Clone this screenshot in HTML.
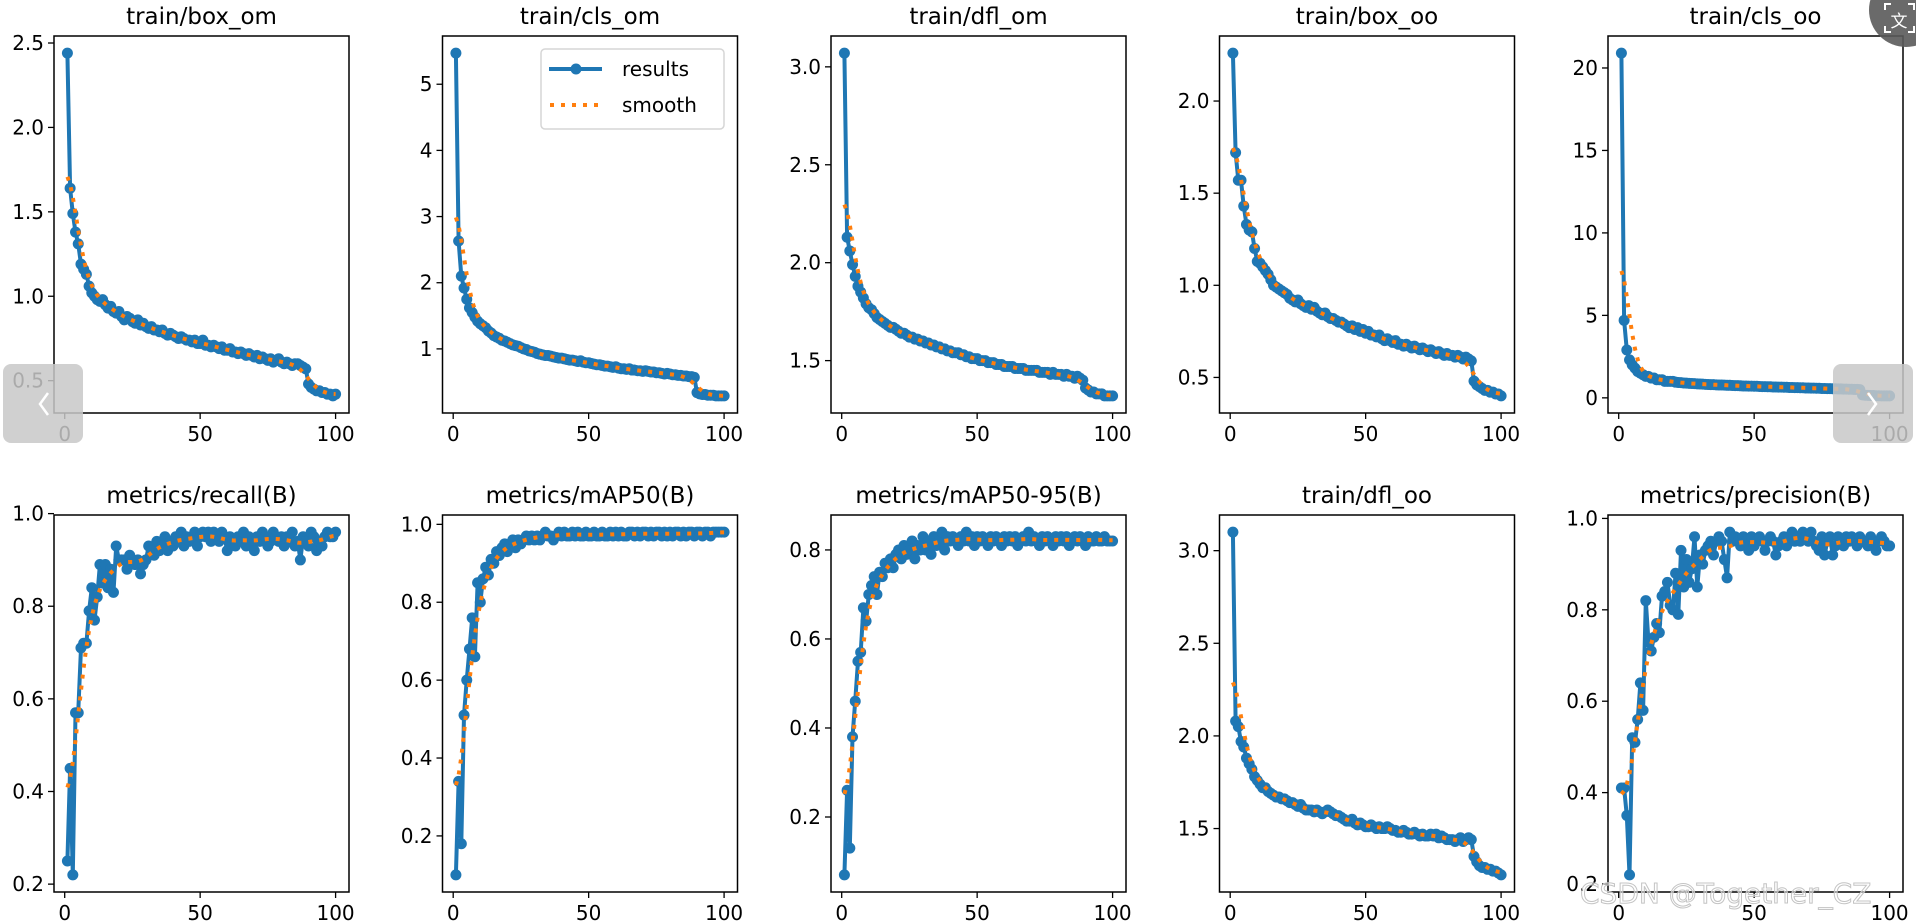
<!DOCTYPE html>
<html><head><meta charset="utf-8">
<style>
html,body{margin:0;padding:0;background:#fff;}
body{width:1916px;height:922px;overflow:hidden;position:relative;font-family:"DejaVu Sans","Liberation Sans",sans-serif;}
svg{position:absolute;left:0;top:0;}
</style></head>
<body>
<svg id="chart" width="1916" height="922" viewBox="0 0 1916 922" xmlns="http://www.w3.org/2000/svg"></svg>
<script>
const titles = ["train/box_om","train/cls_om","train/dfl_om","train/box_oo","train/cls_oo",
"metrics/recall(B)","metrics/mAP50(B)","metrics/mAP50-95(B)","train/dfl_oo","metrics/precision(B)"];
const xTicks = [0,50,100];
const yTicks0 = [0.5,1.0,1.5,2.0,2.5];
const yTicks1 = [1,2,3,4,5];
const yTicks2 = [1.5,2.0,2.5,3.0];
const yTicks3 = [0.5,1.0,1.5,2.0];
const yTicks4 = [0,5,10,15,20];
const yTicks5 = [0.2,0.4,0.6,0.8,1.0];
const yTicks6 = [0.2,0.4,0.6,0.8,1.0];
const yTicks7 = [0.2,0.4,0.6,0.8];
const yTicks8 = [1.5,2.0,2.5,3.0];
const yTicks9 = [0.2,0.4,0.6,0.8,1.0];
const yDecimals = [1,0,1,1,0,1,1,1,1,1];

const boxOm = [2.44,1.64,1.49,1.38,1.31,1.19,1.16,1.13,1.06,1.02,
1.00,0.98,0.97,0.98,0.95,0.93,0.94,0.91,0.90,0.91,
0.88,0.86,0.88,0.87,0.85,0.84,0.86,0.83,0.84,0.82,
0.81,0.82,0.80,0.80,0.79,0.80,0.78,0.77,0.78,0.77,
0.76,0.75,0.76,0.75,0.74,0.74,0.73,0.74,0.72,0.72,
0.74,0.71,0.71,0.70,0.71,0.70,0.69,0.70,0.68,0.68,
0.69,0.67,0.67,0.66,0.67,0.66,0.65,0.66,0.65,0.64,
0.65,0.63,0.64,0.63,0.62,0.63,0.61,0.62,0.63,0.61,
0.60,0.61,0.60,0.59,0.60,0.60,0.59,0.58,0.57,0.48,
0.46,0.45,0.44,0.44,0.43,0.43,0.42,0.42,0.41,0.42];
const clsOm = [5.47,2.63,2.10,1.92,1.75,1.62,1.55,1.48,1.42,1.38,
1.35,1.32,1.27,1.24,1.20,1.18,1.16,1.13,1.12,1.10,
1.08,1.06,1.05,1.04,1.02,1.00,0.99,0.97,0.96,0.95,
0.93,0.92,0.91,0.90,0.90,0.89,0.88,0.87,0.86,0.86,
0.85,0.84,0.83,0.83,0.82,0.81,0.82,0.80,0.79,0.79,
0.78,0.77,0.76,0.76,0.75,0.74,0.74,0.73,0.72,0.73,
0.71,0.70,0.70,0.69,0.70,0.68,0.68,0.67,0.67,0.66,
0.67,0.66,0.65,0.65,0.64,0.64,0.63,0.62,0.63,0.62,
0.61,0.61,0.60,0.60,0.59,0.59,0.58,0.58,0.57,0.34,
0.32,0.31,0.31,0.30,0.30,0.30,0.29,0.29,0.29,0.29];
const dflOm = [3.07,2.13,2.06,1.99,1.93,1.88,1.85,1.82,1.79,1.77,
1.76,1.74,1.72,1.71,1.70,1.69,1.68,1.67,1.67,1.66,
1.65,1.64,1.64,1.63,1.62,1.62,1.61,1.61,1.60,1.60,
1.59,1.59,1.58,1.58,1.57,1.57,1.56,1.56,1.55,1.55,
1.54,1.54,1.54,1.53,1.53,1.52,1.52,1.51,1.51,1.51,
1.50,1.50,1.50,1.49,1.49,1.49,1.48,1.48,1.48,1.47,
1.47,1.47,1.47,1.46,1.46,1.46,1.46,1.45,1.45,1.45,
1.45,1.45,1.44,1.44,1.44,1.44,1.43,1.44,1.43,1.43,
1.43,1.42,1.43,1.42,1.42,1.41,1.42,1.41,1.40,1.36,
1.35,1.34,1.34,1.33,1.33,1.33,1.32,1.32,1.32,1.32];
const boxOo = [2.26,1.72,1.57,1.57,1.43,1.33,1.30,1.29,1.20,1.13,
1.12,1.10,1.08,1.06,1.03,1.00,0.99,0.98,0.97,0.96,
0.95,0.93,0.92,0.91,0.92,0.90,0.89,0.88,0.89,0.87,
0.88,0.86,0.85,0.84,0.85,0.83,0.82,0.82,0.81,0.80,
0.80,0.79,0.78,0.77,0.78,0.76,0.77,0.75,0.76,0.74,
0.75,0.73,0.73,0.72,0.73,0.71,0.70,0.71,0.70,0.69,
0.70,0.68,0.68,0.67,0.68,0.67,0.66,0.67,0.66,0.65,
0.66,0.65,0.64,0.65,0.64,0.63,0.64,0.63,0.62,0.63,
0.62,0.62,0.61,0.62,0.61,0.60,0.61,0.60,0.59,0.48,
0.46,0.45,0.44,0.43,0.43,0.42,0.42,0.41,0.41,0.40];
const clsOo = [20.9,4.7,2.9,2.3,2.0,1.8,1.6,1.5,1.4,1.3,
1.3,1.2,1.2,1.1,1.1,1.1,1.0,1.0,1.0,1.0,
0.95,0.93,0.92,0.90,0.89,0.88,0.87,0.86,0.85,0.84,
0.83,0.82,0.81,0.80,0.80,0.79,0.78,0.78,0.77,0.76,
0.76,0.75,0.74,0.74,0.73,0.72,0.72,0.71,0.71,0.70,
0.70,0.69,0.68,0.68,0.67,0.67,0.66,0.66,0.65,0.65,
0.64,0.64,0.63,0.63,0.62,0.62,0.61,0.61,0.60,0.60,
0.59,0.59,0.58,0.58,0.57,0.57,0.56,0.56,0.55,0.55,
0.54,0.54,0.53,0.53,0.52,0.52,0.51,0.51,0.50,0.18,
0.16,0.15,0.14,0.14,0.13,0.13,0.12,0.12,0.12,0.12];
const recall = [0.25,0.45,0.22,0.57,0.57,0.71,0.72,0.72,0.79,0.84,
0.77,0.82,0.89,0.85,0.89,0.84,0.88,0.83,0.93,0.90,
0.90,0.90,0.88,0.91,0.90,0.89,0.90,0.87,0.89,0.90,
0.93,0.92,0.91,0.94,0.92,0.93,0.95,0.92,0.94,0.93,
0.95,0.94,0.96,0.93,0.95,0.94,0.95,0.96,0.93,0.95,
0.96,0.95,0.96,0.94,0.96,0.95,0.94,0.96,0.95,0.92,
0.95,0.94,0.93,0.95,0.94,0.96,0.93,0.95,0.94,0.92,
0.95,0.94,0.96,0.95,0.93,0.94,0.96,0.95,0.94,0.95,
0.93,0.95,0.94,0.96,0.93,0.94,0.90,0.95,0.94,0.93,
0.96,0.95,0.92,0.94,0.93,0.95,0.96,0.95,0.95,0.96];
const map50 = [0.10,0.34,0.18,0.51,0.60,0.68,0.76,0.66,0.85,0.80,
0.86,0.89,0.87,0.91,0.90,0.93,0.92,0.94,0.95,0.93,
0.95,0.96,0.94,0.96,0.95,0.96,0.97,0.96,0.97,0.96,
0.97,0.96,0.97,0.98,0.97,0.97,0.96,0.97,0.98,0.97,
0.98,0.97,0.97,0.98,0.97,0.98,0.97,0.97,0.98,0.97,
0.97,0.98,0.97,0.97,0.98,0.97,0.97,0.98,0.97,0.98,
0.97,0.98,0.97,0.97,0.98,0.98,0.97,0.98,0.97,0.98,
0.98,0.97,0.98,0.97,0.98,0.98,0.97,0.98,0.97,0.98,
0.97,0.98,0.98,0.97,0.98,0.97,0.98,0.98,0.97,0.98,
0.98,0.97,0.98,0.98,0.97,0.98,0.98,0.98,0.98,0.98];
const map5095 = [0.07,0.26,0.13,0.38,0.46,0.55,0.57,0.67,0.64,0.70,
0.72,0.74,0.70,0.75,0.74,0.77,0.76,0.78,0.76,0.79,
0.80,0.78,0.81,0.79,0.80,0.82,0.78,0.81,0.80,0.83,
0.80,0.82,0.79,0.83,0.81,0.82,0.84,0.80,0.83,0.82,
0.83,0.82,0.81,0.83,0.82,0.84,0.82,0.83,0.81,0.83,
0.82,0.83,0.82,0.81,0.83,0.82,0.83,0.82,0.81,0.83,
0.82,0.83,0.82,0.83,0.81,0.82,0.83,0.82,0.84,0.82,
0.83,0.82,0.81,0.83,0.82,0.83,0.82,0.81,0.83,0.82,
0.83,0.82,0.83,0.81,0.82,0.83,0.82,0.83,0.82,0.81,
0.83,0.82,0.82,0.83,0.82,0.82,0.83,0.82,0.82,0.82];
const dflOo = [3.10,2.08,2.05,1.97,1.94,1.88,1.85,1.82,1.78,1.76,
1.74,1.72,1.72,1.70,1.69,1.68,1.67,1.67,1.66,1.66,
1.65,1.64,1.64,1.63,1.62,1.63,1.61,1.60,1.60,1.60,
1.59,1.60,1.59,1.58,1.59,1.60,1.59,1.58,1.57,1.57,
1.56,1.55,1.54,1.54,1.55,1.53,1.52,1.53,1.52,1.51,
1.51,1.52,1.51,1.50,1.51,1.50,1.50,1.51,1.50,1.49,
1.49,1.48,1.48,1.49,1.48,1.47,1.47,1.48,1.47,1.46,
1.47,1.46,1.46,1.47,1.46,1.47,1.45,1.46,1.45,1.44,
1.44,1.44,1.43,1.44,1.45,1.43,1.44,1.45,1.44,1.35,
1.32,1.30,1.29,1.29,1.28,1.28,1.27,1.27,1.26,1.25];
const precision = [0.41,0.41,0.35,0.22,0.52,0.51,0.56,0.64,0.58,0.82,
0.73,0.71,0.74,0.77,0.75,0.83,0.84,0.86,0.81,0.80,
0.88,0.79,0.93,0.85,0.91,0.86,0.89,0.96,0.85,0.92,
0.90,0.93,0.94,0.95,0.92,0.95,0.96,0.95,0.91,0.87,
0.97,0.95,0.96,0.95,0.94,0.96,0.95,0.93,0.96,0.94,
0.95,0.96,0.95,0.93,0.95,0.96,0.95,0.92,0.94,0.95,
0.96,0.94,0.96,0.97,0.95,0.96,0.95,0.97,0.96,0.95,
0.97,0.95,0.94,0.93,0.96,0.92,0.95,0.96,0.92,0.94,
0.96,0.95,0.94,0.96,0.95,0.96,0.95,0.94,0.96,0.95,
0.95,0.94,0.96,0.95,0.93,0.95,0.96,0.95,0.94,0.94];

const series = [boxOm,clsOm,dflOm,boxOo,clsOo,recall,map50,map5095,dflOo,precision];
const yTicksAll = [yTicks0,yTicks1,yTicks2,yTicks3,yTicks4,yTicks5,yTicks6,yTicks7,yTicks8,yTicks9];

const NS = "http://www.w3.org/2000/svg";
const svg = document.getElementById('chart');
function mk(tag, attrs, parent){
  const e = document.createElementNS(NS, tag);
  for (const k in attrs) e.setAttribute(k, attrs[k]);
  (parent||svg).appendChild(e);
  return e;
}
function smooth(arr, sigma){
  const n = arr.length, out = [];
  const r = Math.ceil(sigma*4);
  for (let i=0;i<n;i++){
    let s=0, w=0;
    for (let k=-r;k<=r;k++){
      let j=i+k;
      if (j<0) j=-j-1;
      if (j>=n) j=2*n-j-1;
      j=Math.max(0,Math.min(n-1,j));
      const g=Math.exp(-k*k/(2*sigma*sigma));
      s+=g*arr[j]; w+=g;
    }
    out.push(s/w);
  }
  return out;
}

const colLeft = [54,442.5,831,1219.5,1608];
const rowTop = [36,515];
const PW = 295, PH = 377;
const FONT = '"DejaVu Sans","Liberation Sans",sans-serif';

for (let p=0;p<10;p++){
  const data = series[p];
  const L = colLeft[p%5], T = rowTop[Math.floor(p/5)];
  const g = mk('g', {});
  
  
  const n = data.length;
  const xmin = 1, xmax = n;
  const xm = (xmax-xmin)*0.05;
  const X = v => L + (v-(xmin-xm))/((xmax+xm)-(xmin-xm))*PW;
  const dmin = Math.min(...data), dmax = Math.max(...data);
  const ym = (dmax-dmin)*0.05;
  const y0 = dmin-ym, y1 = dmax+ym;
  const Y = v => T + PH - (v-y0)/(y1-y0)*PH;

  const title = mk('text', {x:L+PW/2, y:T-12, 'text-anchor':'middle', 'font-size':23, 'font-family':FONT, fill:'#000'}, g);
  title.textContent = titles[p];
  
  

  xTicks.forEach(t=>{
    const x = X(t);
    const tl = mk('line', {x1:x, x2:x, y1:T+PH, y2:T+PH+6, stroke:'#000', 'stroke-width':1.3}, g);
    
    
    const tx = mk('text', {x:x, y:T+PH+28, 'text-anchor':'middle', 'font-size':20, 'font-family':FONT, fill:'#000'}, g);
    tx.textContent = t;
    
    
  });
  yTicksAll[p].forEach(t=>{
    const y = Y(t);
    const tl = mk('line', {x1:L-6, x2:L, y1:y, y2:y, stroke:'#000', 'stroke-width':1.3}, g);
    
    
    const ty = mk('text', {x:L-10, y:y+7, 'text-anchor':'end', 'font-size':20, 'font-family':FONT, fill:'#000'}, g);
    ty.textContent = t.toFixed(yDecimals[p]);
    
    
  });

  const pts = data.map((v,i)=>X(i+1).toFixed(1)+','+Y(v).toFixed(1)).join(' ');
  const line = mk('polyline', {points:pts, fill:'none', stroke:'#1f77b4', 'stroke-width':4, 'stroke-linejoin':'round'}, g);
  
  
  data.forEach((v,i)=>{
    const c = mk('circle', {cx:X(i+1), cy:Y(v), r:5.5, fill:'#1f77b4'}, g);
    
    
  });
  const sm = smooth(data, 3);
  const spts = sm.map((v,i)=>X(i+1).toFixed(1)+','+Y(v).toFixed(1)).join(' ');
  const sl = mk('polyline', {points:spts, fill:'none', stroke:'#ff7f0e', 'stroke-width':4, 'stroke-dasharray':'4 7'}, g);
  
  

  const fr = mk('rect', {x:L, y:T, width:PW, height:PH, fill:'none', stroke:'#000', 'stroke-width':1.5}, g);
  
  

  if (p===1){
    const lg = mk('g', {}, g);
    
    
    mk('rect', {x:541, y:49, width:183, height:80, rx:4, fill:'#fff', 'fill-opacity':0.8, stroke:'#d6d6d6', 'stroke-width':1.5}, lg);
    const l1 = mk('line', {x1:549, x2:602, y1:69, y2:69, stroke:'#1f77b4', 'stroke-width':4}, lg);
    
    
    mk('circle', {cx:576, cy:69, r:5.5, fill:'#1f77b4'}, lg);
    const t1 = mk('text', {x:622, y:76, 'font-size':20, 'font-family':FONT}, lg);
    t1.textContent = 'results';
    
    
    const l2 = mk('line', {x1:550, x2:602, y1:105, y2:105, stroke:'#ff7f0e', 'stroke-width':4, 'stroke-dasharray':'4 7'}, lg);
    
    
    const t2 = mk('text', {x:622, y:112, 'font-size':20, 'font-family':FONT}, lg);
    t2.textContent = 'smooth';
    
    
  }
}

const prev = mk('g', {});


mk('rect', {x:3, y:364, width:80, height:79, rx:8, fill:'#c8c8c8', 'fill-opacity':0.85}, prev);
mk('polyline', {points:'48,393 40,404 48,415', fill:'none', stroke:'#fff', 'stroke-width':2.5}, prev);

const next = mk('g', {});


mk('rect', {x:1833, y:364, width:80, height:79, rx:8, fill:'#c8c8c8', 'fill-opacity':0.85}, next);
mk('polyline', {points:'1868,393 1876,404 1868,415', fill:'none', stroke:'#fff', 'stroke-width':2.5}, next);

const tr = mk('g', {});


mk('circle', {cx:1906, cy:10, r:37, fill:'#5a5a5a', 'fill-opacity':0.9}, tr);
mk('path', {d:'M1885,10 v-6 h6 M1908,4 h6 v6 M1914,26 v6 h-6 M1891,32 h-6 v-6', fill:'none', stroke:'#fff', 'stroke-width':2}, tr);
const trt = mk('text', {x:1899, y:27, 'text-anchor':'middle', 'font-size':17, fill:'#fff', 'font-family':'"Noto Sans CJK SC",sans-serif'}, tr);
trt.textContent = '文';

const wm = mk('text', {x:1580, y:903, 'font-size':28, 'font-family':FONT, fill:'#ffffff', 'fill-opacity':0.5, stroke:'#c4c4c4', 'stroke-width':1});
wm.textContent = 'CSDN @Together_CZ';


</script>
</body></html>
